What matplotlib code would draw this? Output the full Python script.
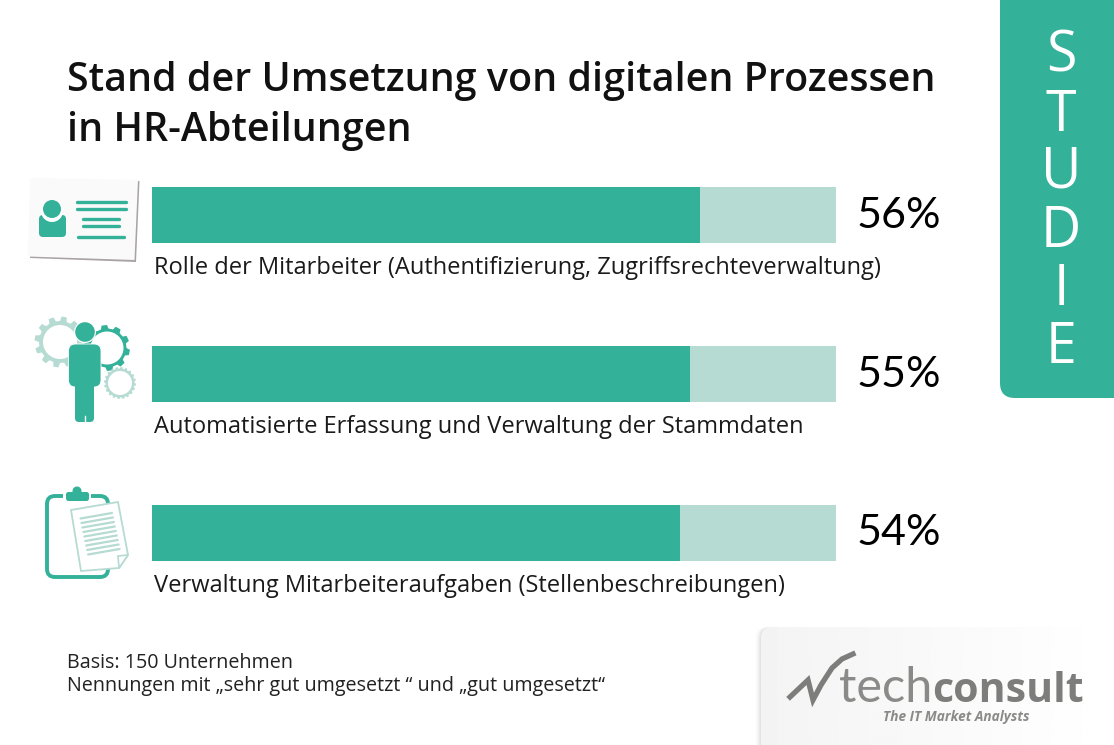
import numpy as np
import matplotlib
matplotlib.use("Agg")
import matplotlib.pyplot as plt
from matplotlib.patches import Circle, FancyBboxPatch, Polygon, Rectangle

# Data
categories = [
    "Rolle der Mitarbeiter (Authentifizierung, Zugriffsrechteverwaltung)",
    "Automatisierte Erfassung und Verwaltung der Stammdaten",
    "Verwaltung Mitarbeiteraufgaben (Stellenbeschreibungen)",
]
values = [56, 55, 54]
track_max = 70
title_lines = ["Stand der Umsetzung von digitalen Prozessen", "in HR-Abteilungen"]
badge_letters = list("STUDIE")
footnotes = ["Basis: 150 Unternehmen",
             "Nennungen mit „sehr gut umgesetzt “ und „gut umgesetzt“"]

GREEN = "#34b199"
PALE = "#b5dbd3"
FONT = "Open Sans"

W, H = 1114, 745
fig = plt.figure(figsize=(W / 100, H / 100), dpi=100, facecolor="white")

# pixel canvas for everything around the bars
bg = fig.add_axes([0, 0, 1, 1])
bg.set_xlim(0, W)
bg.set_ylim(H, 0)
bg.axis("off")

# bars
top, bottom = 135.6, 612.0
ax = fig.add_axes([151.5 / W, 1 - bottom / H, 685 / W, (bottom - top) / H])
ax.patch.set_alpha(0)
pos = np.arange(len(values))
ax.barh(pos, [track_max] * len(values), height=0.353, color=PALE)
ax.barh(pos, values, height=0.353, color=GREEN)
ax.set_xlim(0, track_max)
ax.set_ylim(2.5, -0.5)
ax.axis("off")

for i, (cat, val) in enumerate(zip(categories, values)):
    ax.text(0.3, i + 0.335, cat, fontsize=17.0, family=FONT, color="#1a1a1a",
            va="center", ha="left")
    ax.text(72.0, i + 0.005, f"{val}%", fontsize=31, family="Lato", color="black",
            va="center", ha="left")

# title
for y, line_txt in zip([91, 141], title_lines):
    bg.text(67, y, line_txt, fontsize=28.35, family=FONT, weight="semibold", color="#111111",
            va="baseline", ha="left")

# footnote
for y, line_txt in zip([663, 686], footnotes):
    bg.text(67, y, line_txt, fontsize=14.2, family=FONT, color="#222222", va="center", ha="left")

# STUDIE badge
bg.add_patch(FancyBboxPatch((1000, -30), 150, 428, boxstyle="round,pad=0,rounding_size=15",
                            fc=GREEN, ec="none"))
for y, ch in zip([72, 131, 188, 247, 305, 363], badge_letters):
    bg.text(1061, y, ch, fontsize=40, family=FONT, color="white", va="baseline", ha="center")


def line(xs, ys, color=GREEN, lw=2.0, z=3):
    bg.plot(xs, ys, color=color, lw=lw, solid_capstyle="round", zorder=z)


def gear(cx, cy, r_in, r_out, teeth, color, hole):
    step = 2 * np.pi / teeth
    ang = np.concatenate([[k * step, k * step + step * 0.12, k * step + step * 0.5,
                           k * step + step * 0.62] for k in range(teeth)])
    rad = np.tile([r_in, r_out, r_out, r_in], teeth)
    bg.add_patch(Polygon(np.c_[cx + rad * np.cos(ang), cy + rad * np.sin(ang)],
                         fc=color, ec="none", zorder=2))
    bg.add_patch(Circle((cx, cy), hole, fc="white", ec="none", zorder=2))


# icon 1: id card
bg.add_patch(Polygon([[30, 258], [136, 262], [139.5, 181], [33, 180]], fc="#a9a2a6", ec="none", zorder=1))
bg.add_patch(Polygon([[28, 256.5], [134.5, 260], [138, 180], [30, 178]], fc="#fafafa", ec="none", zorder=2))
bg.add_patch(FancyBboxPatch((39, 215), 27, 22, boxstyle="round,pad=0,rounding_size=4", fc=GREEN, ec="none", zorder=3))
bg.add_patch(Circle((52, 211), 11, fc="white", ec="none", zorder=3))
bg.add_patch(Circle((52, 209), 9, fc=GREEN, ec="none", zorder=4))
for x0, x1, y in [(77, 126, 202), (77, 126, 209), (83, 119, 219), (83, 119, 226), (78, 124, 237)]:
    line([x0, x1], [y, y], lw=2.4)

# icon 2: person with gears
gear(60, 342, 21, 25.5, 12, PALE, 17)
gear(107, 348, 19.5, 23, 10, GREEN, 16.5)
gear(120, 383, 14.5, 16, 20, PALE, 12)
bg.add_patch(Circle((85, 332), 11, fc="white", ec="none", zorder=3))
bg.add_patch(Circle((85, 332), 9.8, fc=GREEN, ec="none", zorder=4))
bg.add_patch(FancyBboxPatch((68.5, 344), 32.5, 43, boxstyle="round,pad=0,rounding_size=7", fc=GREEN,
                            ec="white", lw=0.6, zorder=3))
bg.add_patch(FancyBboxPatch((75, 380), 19, 42, boxstyle="round,pad=0,rounding_size=4", fc=GREEN, ec="none", zorder=4))
bg.plot([84.5, 84.5], [416, 423], color="white", lw=1.0, zorder=5)

# icon 3: clipboard
bg.add_patch(FancyBboxPatch((47, 496), 61, 81, boxstyle="round,pad=0,rounding_size=8", fc="white",
                            ec=GREEN, lw=2.8, zorder=2))
bg.add_patch(Rectangle((63, 490), 28, 10, fc="white", ec="none", zorder=2))
bg.add_patch(FancyBboxPatch((66, 492), 23, 9, boxstyle="round,pad=0,rounding_size=2.5", fc=GREEN, ec="none", zorder=3))
bg.add_patch(Circle((77, 491), 4.5, fc=GREEN, ec="none", zorder=3))
bg.add_patch(Polygon([[71, 510], [118, 502], [128, 555], [119, 568], [81, 571]], fc="white", ec=PALE, lw=1.3, zorder=4))
for k in range(9):
    dx, dy = 0.95 * k, 4.5 * k
    line([80.5 + dx, 112 + dx], [518.5 + dy, 513 + dy], color=PALE, lw=1.6, z=5)
bg.add_patch(Polygon([[119, 568], [118, 556], [128, 555]], fc="white", ec=PALE, lw=1.2, zorder=5))

# logo panel
for k, a in zip([5, 3, 1.5], [0.05, 0.07, 0.1]):
    bg.add_patch(FancyBboxPatch((761 - k, 627), 400, 160, boxstyle="round,pad=0,rounding_size=12",
                                fc="#808080", ec="none", alpha=a, zorder=1))
panel = FancyBboxPatch((761, 627), 400, 160, boxstyle="round,pad=0,rounding_size=12", fc="white", ec="none", zorder=1)
bg.add_patch(panel)
grad = bg.imshow(np.linspace(0.955, 1, 256)[None, :], cmap="gray", vmin=0, vmax=1,
                 extent=(761, 1114, 745, 627), aspect="auto", zorder=1.5)
grad.set_clip_path(panel)
bg.set_xlim(0, W)
bg.set_ylim(H, 0)

LOGO = "#7d7e7c"
bg.plot([790, 808, 813, 821, 832, 842, 853], [697, 680, 700, 685, 668, 659, 654], color=LOGO, lw=3.8,
        solid_joinstyle="miter", zorder=3)
bg.text(839, 702, "tech", fontsize=35, family="Lato", color="#8a8b89", va="baseline", ha="left", zorder=3)
bg.text(1084, 702, "consult", fontsize=29.5, family="Open Sans", weight="bold", color=LOGO,
        va="baseline", ha="right", zorder=3)
bg.text(883, 721, "The IT Market Analysts", fontsize=9.8, family="Open Sans", weight="bold", style="italic",
        color="#8a8b89", va="baseline", ha="left", zorder=3)

fig.savefig("out.png", dpi=100)
